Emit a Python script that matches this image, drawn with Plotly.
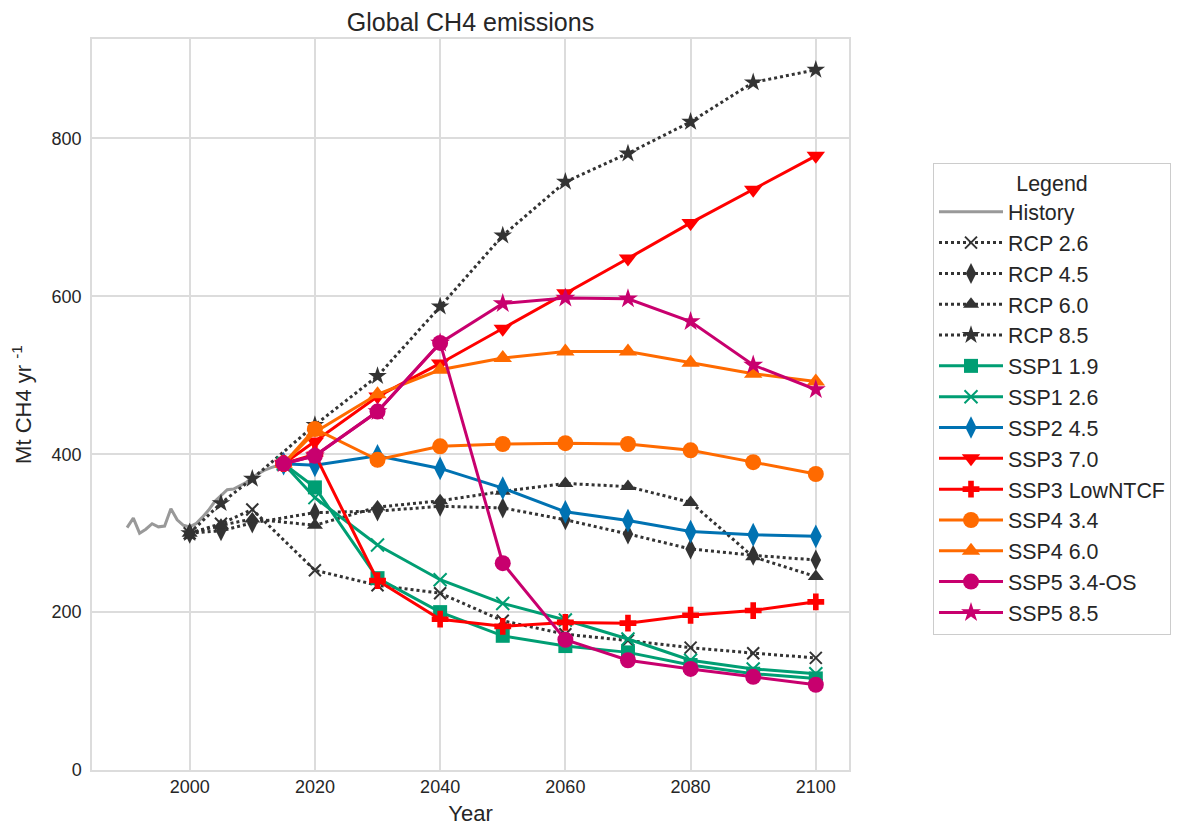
import plotly.graph_objects as go

hist_years = list(range(1990, 2016))
hist_vals = [307, 319, 300, 305, 312, 308, 309, 331, 317, 310, 308, 312, 320, 329, 340,
             348, 355, 356, 360, 364, 371, 376, 380, 383, 386, 388]

rcp_years = [2000, 2005, 2010, 2020, 2030, 2040, 2050, 2060, 2070, 2080, 2090, 2100]
rcp26 = [300, 312, 330, 253, 234, 224, 189, 172, 164, 155, 148, 142]
rcp45 = [300, 303, 313, 326, 328, 334, 332, 317, 299, 280, 272, 266]
rcp60 = [300, 310, 318, 310, 333, 341, 353, 363, 359, 339, 270, 245]
rcp85 = [300, 338, 369, 437, 499, 587, 677, 745, 781, 821, 871, 887]

ssp_years = [2015, 2020, 2030, 2040, 2050, 2060, 2070, 2080, 2090, 2100]
ssp119 = [388, 358, 243, 200, 170, 157, 149, 133, 122, 116]
ssp126 = [388, 345, 285, 241, 211, 190, 166, 139, 128, 122]
ssp245 = [388, 386, 398, 382, 357, 327, 316, 302, 298, 296]
ssp370 = [388, 416, 473, 515, 559, 604, 648, 693, 735, 778]
ssp3lo = [388, 400, 240, 191, 182, 187, 186, 196, 202, 213]
ssp434 = [388, 432, 393, 410, 413, 414, 413, 405, 390, 375]
ssp460 = [388, 428, 476, 507, 522, 530, 530, 516, 502, 492]
ssp534 = [388, 398, 454, 541, 262, 165, 139, 128, 118, 108]
ssp585 = [388, 398, 454, 541, 591, 598, 597, 568, 513, 482]

GREEN = "#009E73"
BLUE = "#0072B2"
RED = "#FF0000"
ORANGE = "#FF6A00"
MAGENTA = "#C8006E"
DARK = "#333333"

fig = go.Figure()
fig.add_trace(go.Scatter(x=hist_years, y=hist_vals, mode="lines", name="History",
                         line=dict(color="#999999", width=3)))

rcps = [("RCP 2.6", rcp26, "x-thin", 12), ("RCP 4.5", rcp45, "diamond-tall", 15),
        ("RCP 6.0", rcp60, "triangle-up", 14), ("RCP 8.5", rcp85, "star", 14)]
for name, vals, sym, sz in rcps:
    fig.add_trace(go.Scatter(
        x=rcp_years, y=vals, mode="lines+markers", name=name,
        line=dict(color=DARK, width=3, dash="dot"),
        marker=dict(symbol=sym, size=sz, color=DARK,
                    line=dict(color=DARK, width=2 if sym == "x-thin" else 0))))

ssps = [("SSP1 1.9", ssp119, GREEN, "square", 14),
        ("SSP1 2.6", ssp126, GREEN, "x-thin", 13),
        ("SSP2 4.5", ssp245, BLUE, "diamond-tall", 17),
        ("SSP3 7.0", ssp370, RED, "triangle-down", 16),
        ("SSP3 LowNTCF", ssp3lo, RED, "cross", 14),
        ("SSP4 3.4", ssp434, ORANGE, "circle", 16),
        ("SSP4 6.0", ssp460, ORANGE, "triangle-up", 16),
        ("SSP5 3.4-OS", ssp534, MAGENTA, "circle", 16),
        ("SSP5 8.5", ssp585, MAGENTA, "star", 15)]
for name, vals, col, sym, sz in ssps:
    fig.add_trace(go.Scatter(
        x=ssp_years, y=vals, mode="lines+markers", name=name,
        line=dict(color=col, width=3),
        marker=dict(symbol=sym, size=sz, color=col,
                    line=dict(color=col, width=2 if sym == "x-thin" else 0))))

FONT = "Liberation Sans, Arial, sans-serif"
fig.update_layout(
    width=1174, height=818,
    margin=dict(l=84, r=332, t=31, b=56),
    paper_bgcolor="white", plot_bgcolor="white",
    font=dict(family=FONT, size=18, color="#262626"),
    title=dict(text="Global CH4 emissions", x=0.5, xref="paper", xanchor="center",
               y=0.982, yanchor="middle", font=dict(size=25, color="#262626")),
    showlegend=True,
    legend=dict(x=1.1095, y=0.831, xanchor="left", yanchor="top",
                bgcolor="white", bordercolor="#cccccc", borderwidth=1,
                font=dict(size=21.4), itemwidth=64,
                title=dict(text="Legend", side="top center", font=dict(size=21.4))),
)
fig.update_xaxes(range=[1984.4, 2105.3], tickvals=[2000, 2020, 2040, 2060, 2080, 2100],
                 showgrid=True, gridcolor="#dcdcdc", gridwidth=1.5,
                 showline=True, linecolor="#dcdcdc", linewidth=1.5, mirror=True,
                 zeroline=False, ticks="", automargin=False,
                 title=dict(text="Year", standoff=20),
                 tickfont=dict(size=18))
fig.update_yaxes(range=[0, 926], tickvals=[0, 200, 400, 600, 800],
                 showgrid=True, gridcolor="#dcdcdc", gridwidth=1.5,
                 showline=True, linecolor="#dcdcdc", linewidth=1.5, mirror=True,
                 zeroline=False, ticks="", ticklabelstandoff=5, automargin=False,
                 title=dict(text="Mt CH4 yr <sup>-1</sup>", standoff=16),
                 tickfont=dict(size=18))

fig.write_html("out.html")
